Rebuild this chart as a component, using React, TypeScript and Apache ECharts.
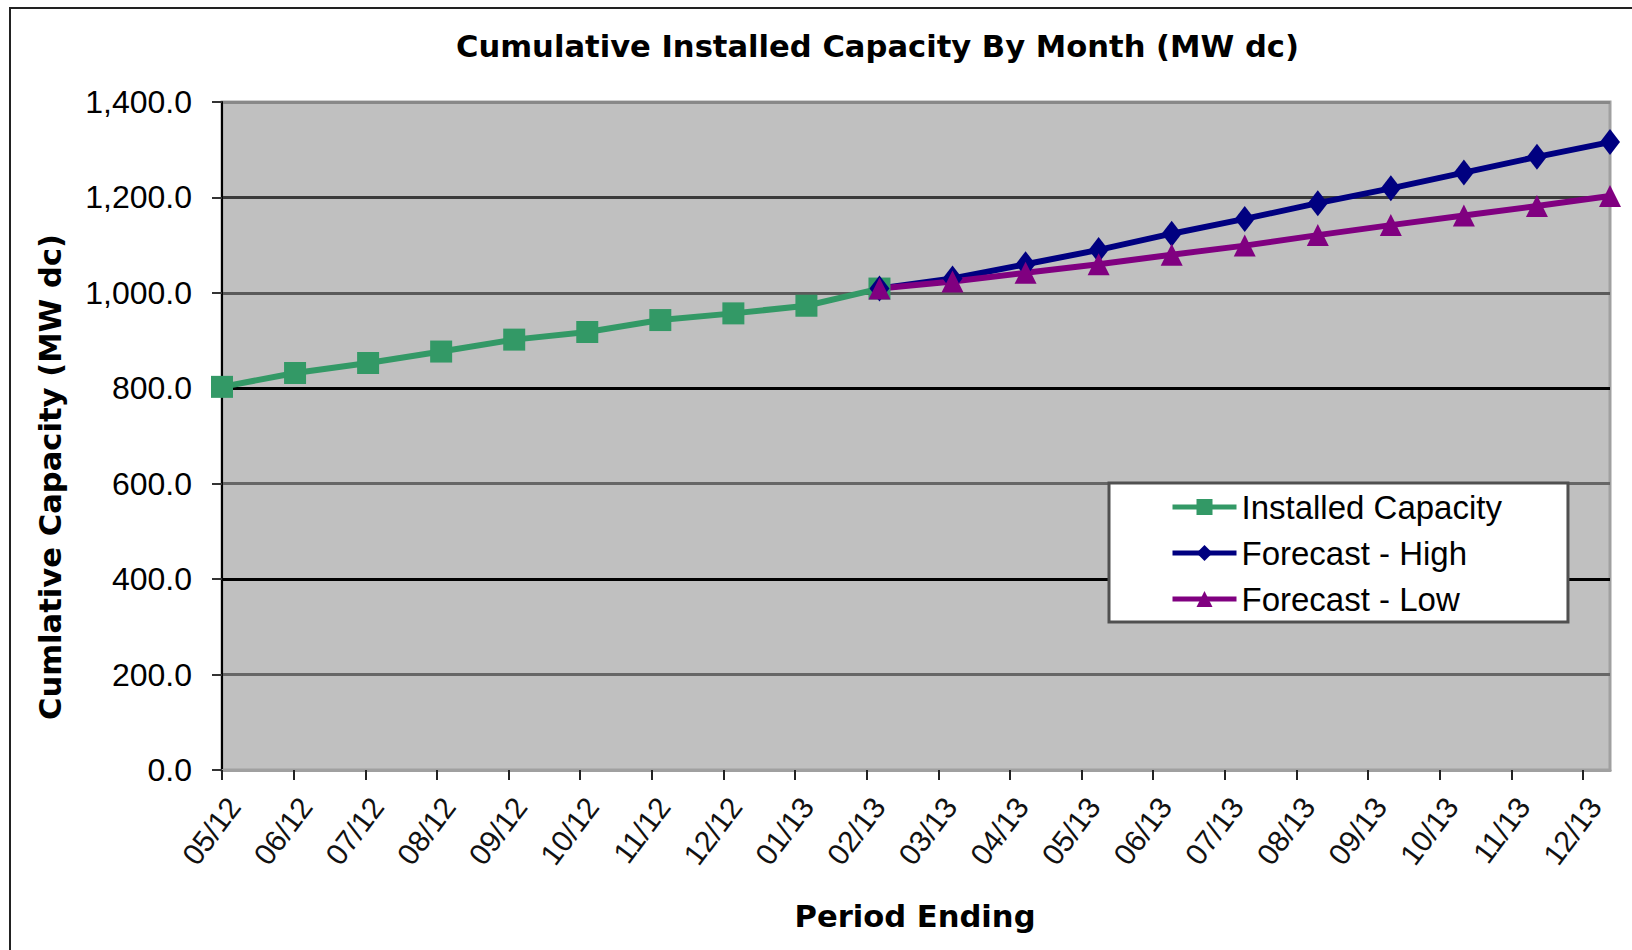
import React, { useEffect, useRef } from "react";
import * as echarts from "echarts";

const categories = [
  "05/12", "06/12", "07/12", "08/12", "09/12", "10/12", "11/12", "12/12", "01/13", "02/13",
  "03/13", "04/13", "05/13", "06/13", "07/13", "08/13", "09/13", "10/13", "11/13", "12/13",
];

const installedCapacity = [
  803, 832, 853, 877, 902, 918, 943, 957, 973, 1009,
  null, null, null, null, null, null, null, null, null, null,
];

const forecastHigh = [
  null, null, null, null, null, null, null, null, null, 1009,
  1030, 1060, 1090, 1124, 1155, 1188, 1219, 1252, 1285, 1316,
];

const forecastLow = [
  null, null, null, null, null, null, null, null, null, 1009,
  1024, 1042, 1060, 1080, 1099, 1121, 1142, 1162, 1182, 1203,
];

const yMin = 0;
const yMax = 1400;
const yStep = 200;

const titleText = "Cumulative Installed Capacity By Month (MW dc)";
const yAxisTitle = "Cumlative Capacity (MW dc)";
const xAxisTitle = "Period Ending";

export default function App() {
  const ref = useRef<HTMLDivElement>(null);

  useEffect(() => {
    if (!ref.current) return;
    const chart = echarts.init(ref.current, null, { renderer: "svg" });
    const option = {
      animation: false,
      backgroundColor: "#ffffff",
      title: {
        text: titleText,
        left: 456,
        top: 31,
        padding: 0,
        textStyle: {
          fontFamily: "DejaVu Sans",
          fontWeight: "bold",
          fontSize: 30.6,
          color: "#000",
        },
      },
      grid: [
        {
          left: 222,
          right: 22,
          top: 102,
          bottom: 180,
          show: true,
          backgroundColor: "#c0c0c0",
          borderColor: "#a0a0a0",
          borderWidth: 3,
        },
        { left: 222, right: 49, top: 102, bottom: 180 },
      ],
      xAxis: [
        {
          gridIndex: 0,
          type: "category",
          data: categories,
          boundaryGap: false,
          axisLine: { show: true, lineStyle: { color: "#a0a0a0", width: 3 } },
          axisTick: { show: false },
          axisLabel: { show: false },
          splitLine: { show: false },
        },
        {
          gridIndex: 1,
          type: "category",
          data: categories,
          boundaryGap: false,
          axisLine: { show: false },
          axisTick: { show: true, length: 10, lineStyle: { color: "#222", width: 2 } },
          axisLabel: {
            rotate: 53,
            margin: 22,
            interval: 0,
            verticalAlign: "top",
            fontFamily: "Liberation Sans",
            fontSize: 30,
            color: "#111",
          },
          splitLine: { show: false },
        },
      ],
      yAxis: [
        {
          gridIndex: 0,
          type: "value",
          min: yMin,
          max: yMax,
          interval: yStep,
          axisLine: { show: true, lineStyle: { color: "#000", width: 2 } },
          axisTick: { show: true, length: 10, lineStyle: { color: "#333", width: 2 } },
          axisLabel: {
            margin: 30,
            fontFamily: "Liberation Sans",
            fontSize: 32,
            color: "#000",
            formatter: (v: number) =>
              v.toLocaleString("en-US", { minimumFractionDigits: 1, maximumFractionDigits: 1 }),
          },
          splitLine: {
            show: true,
            lineStyle: {
              color: ["#a0a0a0", "#666666", "#000000", "#666666", "#000000", "#5a5a5a", "#3a3a3a", "#888888"],
              width: 3,
            },
          },
        },
        { gridIndex: 1, type: "value", min: yMin, max: yMax, interval: yStep, show: false, splitLine: { show: false } },
      ],
      legend: {
        orient: "vertical",
        left: 1109,
        top: 483,
        backgroundColor: "#ffffff",
        borderColor: "#505050",
        borderWidth: 3,
        padding: [6, 66, 5, 61],
        itemWidth: 64,
        itemHeight: 20,
        itemGap: 10,
        lineStyle: { width: 5 },
        textStyle: { fontFamily: "Liberation Sans", fontSize: 33, color: "#000", lineHeight: 36 },
        data: ["Installed Capacity", "Forecast - High", "Forecast - Low"],
      },
      series: [
        {
          name: "Installed Capacity",
          type: "line",
          xAxisIndex: 0,
          yAxisIndex: 0,
          data: installedCapacity,
          symbol: "rect",
          symbolSize: 22,
          lineStyle: { color: "#339966", width: 6 },
          itemStyle: { color: "#339966" },
        },
        {
          name: "Forecast - High",
          type: "line",
          xAxisIndex: 0,
          yAxisIndex: 0,
          data: forecastHigh,
          symbol: "diamond",
          symbolSize: [20, 26],
          lineStyle: { color: "#000080", width: 6 },
          itemStyle: { color: "#000080" },
        },
        {
          name: "Forecast - Low",
          type: "line",
          xAxisIndex: 0,
          yAxisIndex: 0,
          data: forecastLow,
          symbol: "triangle",
          symbolSize: [22, 22],
          lineStyle: { color: "#800080", width: 6 },
          itemStyle: { color: "#800080" },
        },
      ],
      graphic: [
        {
          type: "rect",
          silent: true,
          shape: { x: 10, y: 8, width: 1640, height: 970 },
          style: { fill: "none", stroke: "#222", lineWidth: 2 },
        },
        {
          type: "text",
          silent: true,
          x: 50,
          y: 477,
          rotation: Math.PI / 2,
          style: {
            text: yAxisTitle,
            fontFamily: "DejaVu Sans",
            fontWeight: "bold",
            fontSize: 30.6,
            fill: "#000",
            align: "center",
            verticalAlign: "middle",
          },
        },
        {
          type: "text",
          silent: true,
          x: 915,
          y: 916,
          style: {
            text: xAxisTitle,
            fontFamily: "DejaVu Sans",
            fontWeight: "bold",
            fontSize: 30.6,
            fill: "#000",
            align: "center",
            verticalAlign: "middle",
          },
        },
      ],
    };
    chart.setOption(option as any);
    return () => chart.dispose();
  }, []);

  return (
    <div
      ref={ref}
      style={{ position: "absolute", left: 0, top: 0, width: 1632, height: 950 }}
    />
  );
}
